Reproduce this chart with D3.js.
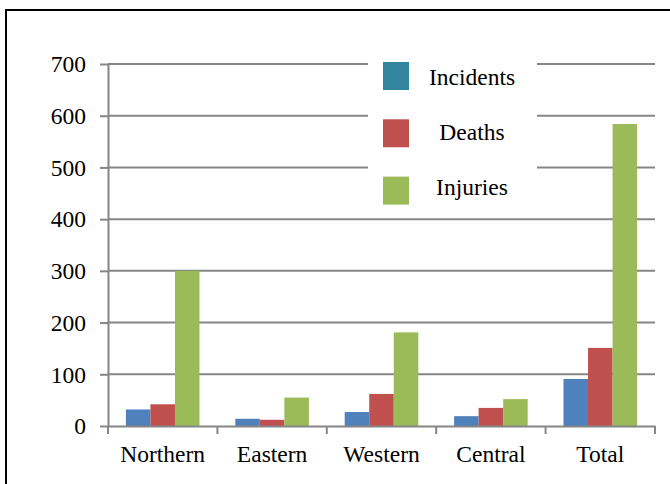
<!DOCTYPE html>
<html>
<head>
<meta charset="utf-8">
<script src="https://cdn.jsdelivr.net/npm/d3@7/dist/d3.min.js"></script>
<style>
  body { margin: 0; background: #fff; }
</style>
</head>
<body>
<svg width="670" height="484"></svg>
<script>
const REGIONS = ['Northern', 'Eastern', 'Western', 'Central', 'Total'];
const SERIES = ['Incidents', 'Deaths', 'Injuries'];
const INCIDENTS = [32, 14, 27, 19, 91];
const DEATHS = [42, 12, 62, 35, 151];
const INJURIES = [300, 55, 181, 52, 584];
const Y_TICKS = [0, 100, 200, 300, 400, 500, 600, 700];

const BAR_COLORS = ['#4F81BD', '#C0504D', '#9BBB59'];
const LEGEND_COLORS = ['#31859C', '#C0504D', '#9BBB59'];
const AXIS_COLOR = '#868686';
const FONT = '"Liberation Serif", "Times New Roman", serif';
const FONT_SIZE = 23.5;

const PLOT = { left: 108, right: 655, top: 64, bottom: 426 };

const rows = REGIONS.map((region, i) => ({
  region,
  values: [INCIDENTS[i], DEATHS[i], INJURIES[i]]
}));

const svg = d3.select('svg');

// outer frame
svg.append('rect')
  .attr('x', 6).attr('y', 10)
  .attr('width', 700).attr('height', 500)
  .attr('fill', 'none')
  .attr('stroke', '#000')
  .attr('stroke-width', 2);

const xScale = d3.scaleBand()
  .domain(REGIONS)
  .range([PLOT.left, PLOT.right]);

const xInner = d3.scaleBand()
  .domain(SERIES)
  .range([0, xScale.bandwidth()])
  .paddingOuter(0.73);

const yScale = d3.scaleLinear()
  .domain([0, 700])
  .range([PLOT.bottom, PLOT.top]);

// gridlines
svg.append('g')
  .selectAll('line')
  .data(Y_TICKS.slice(1))
  .enter()
  .append('line')
  .attr('x1', PLOT.left).attr('x2', PLOT.right)
  .attr('y1', d => yScale(d)).attr('y2', d => yScale(d))
  .attr('stroke', AXIS_COLOR)
  .attr('stroke-width', 2);

// bars
const groups = svg.append('g')
  .selectAll('g')
  .data(rows)
  .enter()
  .append('g')
  .attr('transform', d => `translate(${xScale(d.region)},0)`);

groups.selectAll('rect')
  .data(d => d.values.map((v, i) => ({ series: SERIES[i], value: v, idx: i })))
  .enter()
  .append('rect')
  .attr('x', d => xInner(d.series))
  .attr('width', xInner.bandwidth())
  .attr('y', d => yScale(d.value))
  .attr('height', d => PLOT.bottom - yScale(d.value))
  .attr('fill', d => BAR_COLORS[d.idx]);

// y axis
const yAxis = svg.append('g')
  .attr('transform', `translate(${PLOT.left},0)`)
  .attr('font-family', FONT)
  .call(d3.axisLeft(yScale).tickValues(Y_TICKS).tickSize(8).tickSizeOuter(0).tickPadding(14));
yAxis.attr('font-family', FONT).attr('font-size', FONT_SIZE);
yAxis.select('.domain').attr('stroke', AXIS_COLOR).attr('stroke-width', 2);
yAxis.selectAll('.tick line').attr('stroke', AXIS_COLOR).attr('stroke-width', 2);
yAxis.selectAll('.tick text').attr('fill', '#000').attr('dy', '0.33em');

// x axis
const xAxis = svg.append('g')
  .attr('transform', `translate(0,${PLOT.bottom})`)
  .call(d3.axisBottom(xScale).tickSize(0).tickPadding(0));
xAxis.attr('font-family', FONT).attr('font-size', FONT_SIZE);
xAxis.select('.domain').attr('stroke', AXIS_COLOR).attr('stroke-width', 2);
xAxis.selectAll('.tick text').attr('fill', '#000').attr('y', 36).attr('dy', 0);

// category separators
svg.append('g')
  .selectAll('line')
  .data(REGIONS.concat(['end']))
  .enter()
  .append('line')
  .attr('x1', (d, i) => PLOT.left + i * xScale.step())
  .attr('x2', (d, i) => PLOT.left + i * xScale.step())
  .attr('y1', PLOT.bottom).attr('y2', PLOT.bottom + 8)
  .attr('stroke', AXIS_COLOR)
  .attr('stroke-width', 2);

// legend
const legend = svg.append('g');
legend.append('rect')
  .attr('x', 368).attr('y', 52)
  .attr('width', 169).attr('height', 158)
  .attr('fill', '#fff');

const items = legend.selectAll('.item')
  .data(SERIES)
  .enter()
  .append('g')
  .attr('class', 'item');

items.append('rect')
  .attr('x', 383).attr('y', (d, i) => 62 + i * 57.3)
  .attr('width', 26).attr('height', 28)
  .attr('fill', (d, i) => LEGEND_COLORS[i]);

items.append('text')
  .attr('x', 472).attr('y', (d, i) => 85 + i * 55)
  .attr('text-anchor', 'middle')
  .attr('font-family', FONT)
  .attr('font-size', FONT_SIZE)
  .attr('fill', '#000')
  .text(d => d);
</script>
</body>
</html>
